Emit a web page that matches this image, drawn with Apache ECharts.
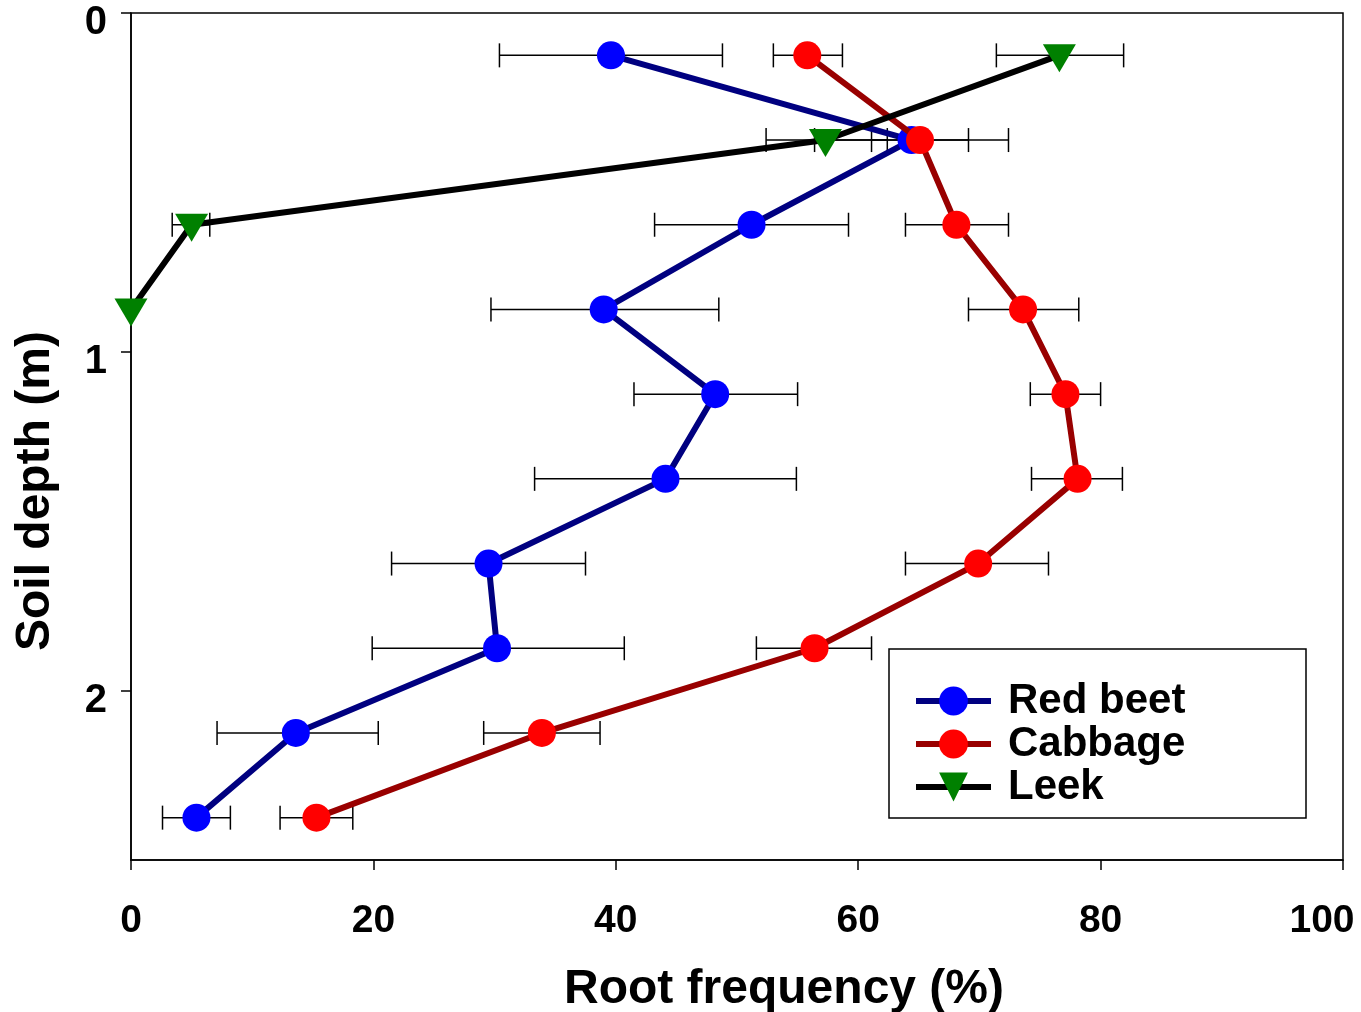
<!DOCTYPE html>
<html>
<head>
<meta charset="utf-8">
<script src="https://cdn.jsdelivr.net/npm/echarts@6/dist/echarts.min.js"></script>
<style>html,body{margin:0;padding:0;background:#fff}#c{width:1361px;height:1012px}</style>
</head>
<body>
<div id="c"></div>
<script>
var depths = [0.125, 0.375, 0.625, 0.875, 1.125, 1.375, 1.625, 1.875, 2.125, 2.375];
var xTicks = [0, 20, 40, 60, 80, 100];
var yTicks = [0, 1, 2];

var redBeet     = [39.6, 64.4, 51.2, 39.0, 48.2, 44.1, 29.5, 30.2, 13.6, 5.4];
var redBeetLow  = [30.4, 56.4, 43.2, 29.7, 41.5, 33.3, 21.5, 19.9, 7.1, 2.6];
var redBeetHigh = [48.8, 72.4, 59.2, 48.5, 55.0, 54.9, 37.5, 40.7, 20.4, 8.2];

var cabbage     = [55.8, 65.1, 68.1, 73.6, 77.1, 78.1, 69.9, 56.4, 33.9, 15.3];
var cabbageLow  = [53.0, 61.1, 63.9, 69.1, 74.2, 74.3, 63.9, 51.6, 29.1, 12.3];
var cabbageHigh = [58.7, 69.1, 72.4, 78.2, 80.0, 81.8, 75.7, 61.1, 38.7, 18.3];

var leek     = [76.6, 57.3, 5.0, 0.0];
var leekLow  = [71.4, 52.4, 3.4, null];
var leekHigh = [81.9, 62.4, 6.5, null];

function pts(vals) { return vals.map(function (v, i) { return [v, depths[i]]; }); }
function errs(lo, hi) {
  var out = [];
  for (var i = 0; i < lo.length; i++) { if (lo[i] != null) out.push([lo[i], hi[i], depths[i]]); }
  return out;
}

function renderErr(params, api) {
  var a = api.coord([api.value(0), api.value(2)]);
  var b = api.coord([api.value(1), api.value(2)]);
  var h = 12;
  var st = { stroke: '#000', lineWidth: 1.5 };
  return { type: 'group', children: [
    { type: 'line', shape: { x1: a[0], y1: a[1], x2: b[0], y2: b[1] }, style: st },
    { type: 'line', shape: { x1: a[0], y1: a[1] - h, x2: a[0], y2: a[1] + h }, style: st },
    { type: 'line', shape: { x1: b[0], y1: b[1] - h, x2: b[0], y2: b[1] + h }, style: st }
  ]};
}

var FONT = '"Liberation Sans", Arial, sans-serif';
var chart = echarts.init(document.getElementById('c'), null, { renderer: 'canvas' });
chart.setOption({
  animation: false,
  backgroundColor: '#fff',
  grid: { left: 131, right: 18, top: 13, bottom: 152, containLabel: false, outerBoundsMode: 'none',
    show: true, borderColor: '#000', borderWidth: 1.5 },
  xAxis: {
    type: 'value', min: 0, max: 100, interval: 20,
    axisLine: { show: true, onZero: false, lineStyle: { color: '#000', width: 1.5 } },
    axisTick: { show: true, length: 10, inside: false, lineStyle: { color: '#000', width: 1.5 } },
    splitLine: { show: false },
    axisLabel: { margin: 42, color: '#000', customValues: xTicks,
      formatter: function (v) { return v === 100 ? '{r|' + v + '}' : '{a|' + v + '}'; },
      rich: {
        a: { fontFamily: FONT, fontWeight: 'bold', fontSize: 39, color: '#000' },
        r: { fontFamily: FONT, fontWeight: 'bold', fontSize: 39, color: '#000', padding: [0, 42, 0, 0] }
      } }
  },
  yAxis: {
    type: 'value', min: 0, max: 2.5, inverse: true,
    axisLine: { show: true, onZero: false, lineStyle: { color: '#000', width: 1.5 } },
    axisTick: { show: true, length: 10, lineStyle: { color: '#000', width: 1.5 }, customValues: yTicks },
    splitLine: { show: false },
    axisLabel: { margin: 24, color: '#000', customValues: yTicks,
      formatter: '{a|{value}}',
      rich: { a: { fontFamily: FONT, fontWeight: 'bold', fontSize: 40, color: '#000', padding: [20, 0, 0, 0] } } }
  },
  legend: {
    left: 913, top: 680, orient: 'vertical', itemWidth: 75, itemHeight: 36, itemGap: 1,
    padding: 0,
    textStyle: { color: '#000', fontFamily: FONT, fontWeight: 'bold', fontSize: 42, lineHeight: 42, padding: [0, 0, 0, 12] },
    data: [
      { name: 'Red beet', lineStyle: { width: 6, color: '#000080' } },
      { name: 'Cabbage', lineStyle: { width: 6, color: '#990000' } },
      { name: 'Leek', lineStyle: { width: 6, color: '#000000' } }
    ]
  },
  graphic: [
    { type: 'rect', shape: { x: 889, y: 649, width: 417, height: 169 },
      style: { fill: 'none', stroke: '#000', lineWidth: 1.5 }, z: 100 },
    { type: 'text', x: 784, y: 990,
      style: { text: 'Root frequency (%)', fill: '#000', font: 'bold 48px ' + FONT, align: 'center', verticalAlign: 'middle' } },
    { type: 'text', x: 36, y: 491, rotation: Math.PI / 2,
      style: { text: 'Soil depth (m)', fill: '#000', font: 'bold 48px ' + FONT, align: 'center', verticalAlign: 'middle' } }
  ],
  series: [
    { type: 'custom', name: 'errRB', renderItem: renderErr, data: errs(redBeetLow, redBeetHigh), z: 1, silent: true },
    { type: 'custom', name: 'errCB', renderItem: renderErr, data: errs(cabbageLow, cabbageHigh), z: 1, silent: true },
    { type: 'custom', name: 'errLK', renderItem: renderErr, data: errs(leekLow, leekHigh), z: 1, silent: true },
    { type: 'line', name: 'Red beet', data: pts(redBeet), symbol: 'circle', symbolSize: 28,
      lineStyle: { color: '#000080', width: 6 }, itemStyle: { color: '#0000ff' }, z: 2 },
    { type: 'line', name: 'Cabbage', data: pts(cabbage), symbol: 'circle', symbolSize: 28,
      lineStyle: { color: '#990000', width: 6 }, itemStyle: { color: '#ff0000' }, z: 3 },
    { type: 'line', name: 'Leek', data: pts(leek), symbol: 'triangle', symbolSize: [33, 28], symbolRotate: 180,
      symbolOffset: [0, 3],
      lineStyle: { color: '#000000', width: 6 }, itemStyle: { color: '#008000' }, z: 4 }
  ]
});
</script>
</body>
</html>
